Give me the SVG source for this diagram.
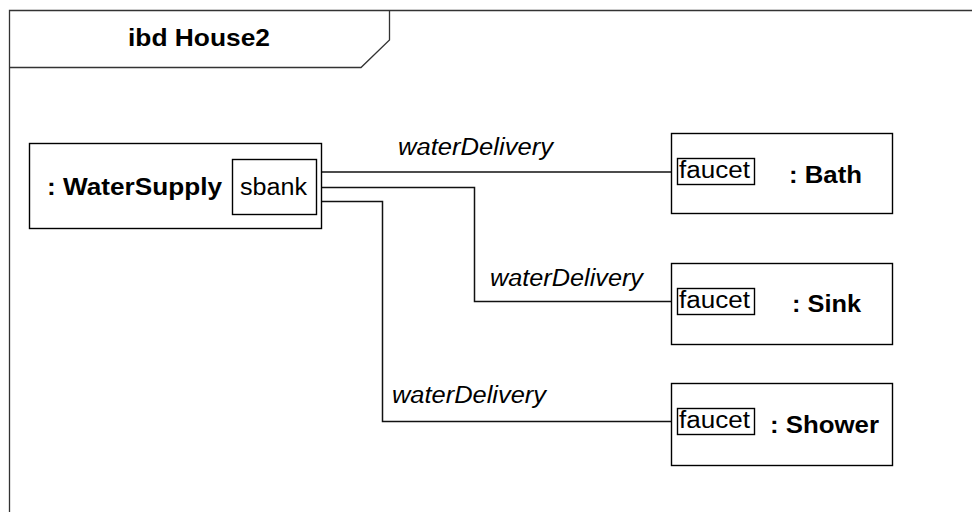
<svg xmlns="http://www.w3.org/2000/svg" width="972" height="512" viewBox="0 0 972 512">
<style>
text{font-family:"Liberation Sans",Arial,sans-serif;font-size:23px;fill:#000}
.b{font-weight:bold}
.i{font-style:italic}
.box{fill:#fff;stroke:#000;stroke-width:1.4}
.port{fill:#fff;stroke:#000;stroke-width:1.4}
.conn{fill:none;stroke:#111;stroke-width:1.5}
.frame{fill:none;stroke:#333;stroke-width:1.3}
</style>
<rect width="972" height="512" fill="#fff"/>
<g id="frame">
<path class="frame" d="M9.5,520 V10.5 H980"/>
<path class="frame" d="M9.5,67.5 H361 L389.5,40 V10.5"/>
<text class="b" x="128" y="46" textLength="142" lengthAdjust="spacingAndGlyphs" style="font-size:24px">ibd House2</text>
</g>
<g id="connectors">
<path class="conn" d="M316,172 H677"/>
<path class="conn" d="M316,187.5 H474.5 V301.5 H677"/>
<path class="conn" d="M316,201.5 H382.5 V421.5 H677"/>
<text class="i" x="398" y="155" textLength="155" lengthAdjust="spacingAndGlyphs">waterDelivery</text>
<text class="i" x="490" y="286" textLength="153" lengthAdjust="spacingAndGlyphs">waterDelivery</text>
<text class="i" x="392" y="403" textLength="154" lengthAdjust="spacingAndGlyphs">waterDelivery</text>
</g>
<g id="WaterSupply">
<rect class="box" x="29.5" y="143.5" width="292" height="85"/>
<text class="b" x="47" y="195" textLength="175" lengthAdjust="spacingAndGlyphs">: WaterSupply</text>
<g id="sbank">
<rect class="port" x="232.5" y="159.5" width="84" height="55"/>
<text x="240" y="195" textLength="67" lengthAdjust="spacingAndGlyphs">sbank</text>
</g>
</g>
<g id="Bath">
<rect class="box" x="671.5" y="133.5" width="221" height="80"/>
<rect class="port" x="677.5" y="158.5" width="77" height="26"/>
<text x="679" y="178" textLength="71" lengthAdjust="spacingAndGlyphs">faucet</text>
<text class="b" x="789" y="183" textLength="73" lengthAdjust="spacingAndGlyphs">: Bath</text>
</g>
<g id="Sink">
<rect class="box" x="671.5" y="263.5" width="221" height="81"/>
<rect class="port" x="677.5" y="288.5" width="77" height="26"/>
<text x="679" y="308" textLength="71" lengthAdjust="spacingAndGlyphs">faucet</text>
<text class="b" x="792" y="312" textLength="69" lengthAdjust="spacingAndGlyphs">: Sink</text>
</g>
<g id="Shower">
<rect class="box" x="671.5" y="383.5" width="221" height="82"/>
<rect class="port" x="677.5" y="408.5" width="77" height="26"/>
<text x="679" y="428" textLength="71" lengthAdjust="spacingAndGlyphs">faucet</text>
<text class="b" x="770" y="433" textLength="109" lengthAdjust="spacingAndGlyphs">: Shower</text>
</g>
</svg>
